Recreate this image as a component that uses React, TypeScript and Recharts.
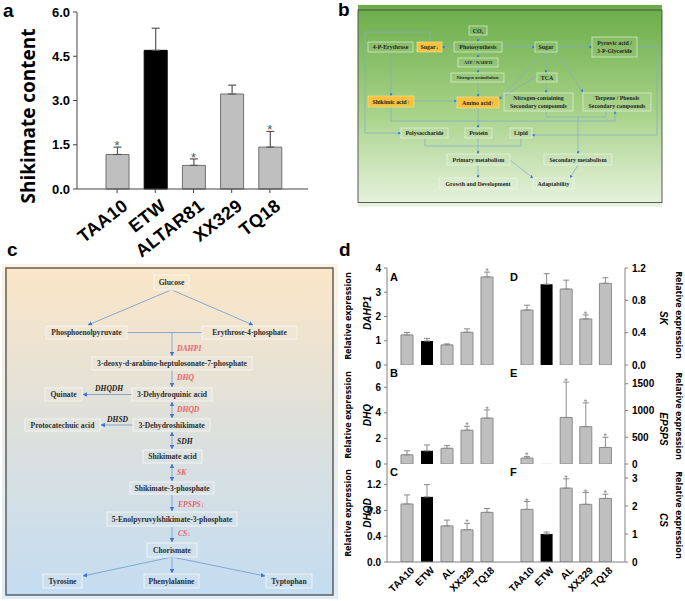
import React from 'react';
import { BarChart, Bar, XAxis, YAxis, ErrorBar, Cell, ReferenceDot } from 'recharts';

// ---------- DATA ----------
const shikCats = ['TAA10', 'ETW', 'ALTAR81', 'XX329', 'TQ18'];
const shikVals = [1.17, 4.7, 0.8, 3.22, 1.42];
const shikErrs = [0.25, 0.75, 0.22, 0.3, 0.53];
const shikStars = [true, false, true, false, true];
const shikTicks = [0, 1.5, 3, 4.5, 6];

const geneCats = ['TAA10', 'ETW', 'AL', 'XX329', 'TQ18'];
const dahp1Vals = [1.24, 0.99, 0.83, 1.35, 3.63];
const dahp1Errs = [0.1, 0.11, 0.04, 0.14, 0.2];
const dahp1Stars = [false, false, false, false, true];
const dhqVals = [0.72, 1.03, 1.23, 2.64, 3.59];
const dhqErrs = [0.31, 0.46, 0.21, 0.31, 0.64];
const dhqStars = [false, false, false, true, true];
const dhqdVals = [0.9, 1.01, 0.56, 0.5, 0.77];
const dhqdErrs = [0.14, 0.19, 0.09, 0.1, 0.06];
const dhqdStars = [false, false, false, true, false];
const skVals = [0.68, 1.0, 0.94, 0.57, 1.01];
const skErrs = [0.06, 0.13, 0.11, 0.05, 0.07];
const skStars = [false, false, false, true, false];
const epspsVals = [111, 1, 870, 698, 309];
const epspsErrs = [31, 0, 661, 444, 191];
const epspsStars = [true, false, true, true, true];
const csVals = [1.88, 1.0, 2.64, 2.06, 2.27];
const csErrs = [0.28, 0.07, 0.33, 0.42, 0.15];
const csStars = [true, false, true, true, true];

const dahp1Ticks = [0, 1, 2, 3, 4];
const dhqTicks = [0, 2, 4, 6];
const dhqdTicks = [0, 0.4, 0.8, 1.2];
const skTicks = [0, 0.4, 0.8, 1.2];
const epspsTicks = [0, 500, 1000, 1500];
const csTicks = [0, 1, 2, 3];

// ---------- STYLE ----------
const FA = 'Arial, "Liberation Sans", sans-serif';
const FO = '"Open Sans", sans-serif';
const FS = '"Liberation Serif", "Times New Roman", serif';
const GRAY = '#bfbfbf';
const GSTROKE = '#8a8a8a';
const FRAME = '#808080';

const fmt1 = (v: number) => v.toFixed(1);
const fmt0 = (v: number) => String(v);

// ---------- Panel a ----------
const TickA = (props: any) => {
  const { x, y, payload } = props;
  const ax = x + 12, ay = y + 13;
  return (
    <text x={ax} y={ay} textAnchor="end" transform={`rotate(-38 ${ax} ${ay})`} fontSize={18} fontWeight="bold" fontFamily={FA} fill="#000" letterSpacing={0.4}>
      {payload.value}
    </text>
  );
};

function PanelA() {
  const data = shikCats.map((c, i) => ({ name: c, v: shikVals[i], e: [0, shikErrs[i]] }));
  return (
    <div style={{ position: 'absolute', left: 0, top: 0 }}>
      <BarChart width={320} height={275} data={data} margin={{ top: 12, right: 12, bottom: 6, left: 17 }}>
        <XAxis xAxisId="main" dataKey="name" height={80} interval={0} padding={{ left: 21, right: 19 }} tickSize={4} tickMargin={2}
          axisLine={{ stroke: '#444' }} tickLine={{ stroke: '#444' }} tick={(p: any) => <TickA {...p} />} />
        <XAxis xAxisId="frame" orientation="top" dataKey="name" height={0} tick={false} tickLine={false} axisLine={{ stroke: '#444' }} />
        <YAxis yAxisId="main" width={60} domain={[0, 6]} ticks={shikTicks} interval={0} tickFormatter={fmt1} tickSize={4} tickMargin={3}
          axisLine={{ stroke: '#444' }} tickLine={{ stroke: '#444' }}
          tick={{ fontSize: 13, fontWeight: 'bold', fill: '#000', fontFamily: FA }} />
        <YAxis yAxisId="frame" orientation="right" width={0} domain={[0, 6]} tick={false} tickLine={false} axisLine={{ stroke: '#444' }} />
        <Bar xAxisId="main" yAxisId="main" dataKey="v" barSize={23} isAnimationActive={false}>
          {data.map((d, i) => (
            <Cell key={i} fill={d.name === 'ETW' ? '#000' : GRAY} stroke={d.name === 'ETW' ? '#000' : '#6f6f6f'} />
          ))}
          <ErrorBar dataKey="e" width={4} stroke="#555" strokeWidth={1.2} direction="y" isAnimationActive={false} />
        </Bar>
        {shikStars.map((s, i) => s ? (
          <ReferenceDot key={i} xAxisId="main" yAxisId="main" x={shikCats[i]} y={shikVals[i] + shikErrs[i]} r={0} ifOverflow="visible"
            shape={(sp: any) => <text x={sp.cx} y={sp.cy + 3} textAnchor="middle" fontSize={13} fill="#555" fontFamily={FA}>*</text>} />
        ) : null)}
      </BarChart>
    </div>
  );
}

// ---------- Panel d subplots ----------
const TickD = (props: any) => {
  const { x, y, payload } = props;
  const ax = x + 8, ay = y + 7;
  return (
    <text x={ax} y={ay} textAnchor="end" transform={`rotate(-45 ${ax} ${ay})`} fontSize={10} fontWeight="bold" fontFamily={FA} fill="#000">
      {payload.value}
    </text>
  );
};

type SubProps = {
  left: number; top: number; plotH: number; side: 'left' | 'right';
  vals: number[]; errs: number[]; stars: boolean[];
  domain: [number, number]; ticks: number[]; fmt: (v: number) => string; showX: boolean;
};

function SubPlot(p: SubProps) {
  const data = geneCats.map((c, i) => ({ name: c, v: p.vals[i], e: p.errs[i] > 0 ? [0, p.errs[i]] : null }));
  const isL = p.side === 'left';
  const W = isL ? 160 : 158;
  const topM = 10;
  const botM = p.showX ? 0 : 8;
  const xH = p.showX ? 38 : 0;
  const H = topM + p.plotH + xH + botM;
  return (
    <div style={{ position: 'absolute', left: p.left, top: p.top - topM }}>
      <BarChart width={W} height={H} data={data} margin={{ top: topM, right: 0, bottom: botM, left: 0 }}>
        <XAxis xAxisId="main" dataKey="name" height={xH} interval={0} padding={{ left: 10, right: 10 }} tickSize={0} tickMargin={2}
          axisLine={{ stroke: FRAME }} tickLine={false} tick={p.showX ? (tp: any) => <TickD {...tp} /> : false} />
        <XAxis xAxisId="frame" orientation="top" dataKey="name" height={0} tick={false} tickLine={false} axisLine={{ stroke: FRAME }} />
        <YAxis yAxisId="main" orientation={p.side} width={40} domain={p.domain} ticks={p.ticks} interval={0} tickFormatter={p.fmt}
          tickSize={3} tickMargin={isL ? 3 : 4} axisLine={{ stroke: FRAME }} tickLine={{ stroke: FRAME }} allowDataOverflow
          tick={{ fontSize: 10, fontWeight: 'bold', fill: '#000', fontFamily: FA }} />
        <YAxis yAxisId="frame" orientation={isL ? 'right' : 'left'} width={0} domain={p.domain} allowDataOverflow
          tick={false} tickLine={false} axisLine={{ stroke: FRAME }} />
        <Bar xAxisId="main" yAxisId="main" dataKey="v" barSize={12} isAnimationActive={false}>
          {data.map((d, i) => (
            <Cell key={i} fill={d.name === 'ETW' ? '#000' : GRAY} stroke={d.name === 'ETW' ? 'none' : GSTROKE} />
          ))}
          <ErrorBar dataKey="e" width={3} stroke={GSTROKE} strokeWidth={1} direction="y" isAnimationActive={false} />
        </Bar>
        {p.stars.map((s, i) => s ? (
          <ReferenceDot key={i} xAxisId="main" yAxisId="main" x={geneCats[i]} y={p.vals[i] + p.errs[i]} r={0} ifOverflow="visible"
            shape={(sp: any) => <text x={sp.cx} y={sp.cy + 2} textAnchor="middle" fontSize={9} fill="#888" fontFamily={FA}>*</text>} />
        ) : null)}
      </BarChart>
    </div>
  );
}

// ---------- Diagrams ----------
type Box = { x: number; y: number; w: number; h: number; t: string[]; yel?: boolean; fs?: number };
const bBoxes: Box[] = [
  { x: 469, y: 26, w: 18, h: 9, t: ['CO\u2082'] },
  { x: 368, y: 42, w: 45, h: 10, t: ['4-P-Erythrose'] },
  { x: 417, y: 42, w: 25, h: 10, t: ['Sugar\u2193'], yel: true },
  { x: 454, y: 42, w: 48, h: 10, t: ['Photosynthesis'] },
  { x: 535, y: 42, w: 22, h: 10, t: ['Sugar'] },
  { x: 592, y: 37, w: 45, h: 20, t: ['Pyruvic acid /', '3-P-Glyceride'] },
  { x: 458, y: 58, w: 40, h: 9, t: ['ATP / NADPH'], fs: 4.6 },
  { x: 451, y: 73, w: 53, h: 9, t: ['Nitrogen assimilation'], fs: 4.6 },
  { x: 537, y: 73, w: 20, h: 9, t: ['TCA'] },
  { x: 368, y: 96, w: 46, h: 11, t: ['Shikimic acid\u2191'], yel: true },
  { x: 457, y: 97, w: 42, h: 11, t: ['Amino acid\u2191'], yel: true },
  { x: 504, y: 93, w: 69, h: 18, t: ['Nitrogen-containing', 'Secondary compounds'] },
  { x: 583, y: 93, w: 68, h: 18, t: ['Terpene / Phenols', 'Secondary compounds'] },
  { x: 401, y: 128, w: 47, h: 10, t: ['Polysaccharide'] },
  { x: 465, y: 128, w: 27, h: 10, t: ['Protein'] },
  { x: 510, y: 128, w: 22, h: 10, t: ['Lipid'] },
  { x: 447, y: 154, w: 63, h: 11, t: ['Primary metabolism'] },
  { x: 544, y: 154, w: 68, h: 11, t: ['Secondary metabolism'] },
  { x: 439, y: 178, w: 78, h: 11, t: ['Growth and Development'] },
  { x: 533, y: 178, w: 41, h: 11, t: ['Adaptability'] },
];
type Ln = { p: number[][]; a?: boolean; s?: boolean };
const bLines: Ln[] = [
  { p: [[478, 35], [478, 42]], a: true },
  { p: [[454, 47], [442, 47]], a: true },
  { p: [[502, 47], [535, 47]], a: true },
  { p: [[557, 47], [592, 47]], a: true },
  { p: [[478, 52], [478, 58]], a: true },
  { p: [[478, 67], [478, 73]], a: true },
  { p: [[478, 82], [478, 97]], a: true },
  { p: [[430, 42], [430, 32], [365, 32], [365, 133], [401, 133]], a: true },
  { p: [[391, 52], [391, 96]], a: true },
  { p: [[414, 101], [457, 101]], a: true },
  { p: [[545, 52], [499, 99]], a: true },
  { p: [[546, 52], [546, 73]], a: true },
  { p: [[556, 52], [583, 92]], a: true },
  { p: [[537, 76], [499, 99]], a: true },
  { p: [[546, 82], [546, 93]], a: true },
  { p: [[391, 107], [391, 121], [615, 121], [615, 111]], a: true },
  { p: [[546, 111], [546, 117], [606, 117], [606, 111]] },
  { p: [[578, 117], [578, 154]], a: true },
  { p: [[637, 47], [657, 47], [657, 135], [532, 135]], a: true },
  { p: [[478, 108], [478, 128]], a: true },
  { p: [[425, 138], [425, 146], [521, 146], [521, 138]] },
  { p: [[478, 138], [478, 154]], a: true },
  { p: [[478, 165], [478, 178]], a: true },
  { p: [[510, 160], [533, 178]], a: true },
  { p: [[578, 165], [570, 178]], a: true },
];

const cBoxes: Box[] = [
  { x: 154, y: 275, w: 35, h: 15, t: ['Glucose'] },
  { x: 46, y: 326, w: 81, h: 13, t: ['Phosphoenolpyruvate'] },
  { x: 202, y: 326, w: 95, h: 13, t: ['Erythrose-4-phosphate'] },
  { x: 92, y: 357, w: 160, h: 13, t: ['3-deoxy-d-arabino-heptulosonate-7-phosphate'] },
  { x: 45, y: 388, w: 37, h: 13, t: ['Quinate'] },
  { x: 132, y: 388, w: 80, h: 13, t: ['3-Dehydroquinic acid'] },
  { x: 25, y: 419, w: 75, h: 12, t: ['Protocatechuic acid'] },
  { x: 133, y: 419, w: 77, h: 12, t: ['3-Dehydroshikimate'] },
  { x: 143, y: 450, w: 59, h: 13, t: ['Shikimate acid'] },
  { x: 130, y: 482, w: 84, h: 12, t: ['Shikimate-3-phosphate'] },
  { x: 107, y: 512, w: 130, h: 14, t: ['5-Enolpyruvylshikimate-3-phosphate'] },
  { x: 147, y: 543, w: 50, h: 14, t: ['Chorismate'] },
  { x: 43, y: 574, w: 39, h: 14, t: ['Tyrosine'] },
  { x: 144, y: 574, w: 55, h: 14, t: ['Phenylalanine'] },
  { x: 266, y: 574, w: 46, h: 14, t: ['Typtophan'] },
];
const cLines: Ln[] = [
  { p: [[171, 290], [88, 325]], a: true },
  { p: [[172, 290], [253, 325]], a: true },
  { p: [[127, 332.5], [202, 332.5]] },
  { p: [[172, 332.5], [172, 356]], a: true },
  { p: [[172, 370], [172, 387]], a: true },
  { p: [[132, 394.5], [83, 394.5]], a: true },
  { p: [[172, 402], [172, 418]], a: true, s: true },
  { p: [[133, 425], [101, 425]], a: true },
  { p: [[172, 432], [172, 449]], a: true, s: true },
  { p: [[172, 464], [172, 481]], a: true, s: true },
  { p: [[172, 495], [172, 511]], a: true },
  { p: [[172, 527], [172, 542]], a: true },
  { p: [[172, 557], [83, 576]], a: true },
  { p: [[172, 557], [172, 573]], a: true },
  { p: [[172, 557], [265, 576]], a: true },
];
type Lab = { x: number; y: number; t: string; red: boolean };
const cLabels: Lab[] = [
  { x: 177, y: 351, t: 'DAHP1', red: true },
  { x: 177, y: 380, t: 'DHQ', red: true },
  { x: 95, y: 391, t: 'DHQDH', red: false },
  { x: 177, y: 412, t: 'DHQD', red: true },
  { x: 107, y: 422, t: 'DHSD', red: false },
  { x: 177, y: 444, t: 'SDH', red: false },
  { x: 177, y: 475, t: 'SK', red: true },
  { x: 178, y: 507, t: 'EPSPS\u2193', red: true },
  { x: 178, y: 536, t: 'CS\u2193', red: true },
];

const pts = (p: number[][]) => p.map((q) => q.join(',')).join(' ');

function Diagrams() {
  return (
    <svg width={685} height={601} style={{ position: 'absolute', left: 0, top: 0 }}>
      <defs>
        <linearGradient id="gB" x1="0" y1="0" x2="0" y2="1">
          <stop offset="0" stopColor="#6aac48" />
          <stop offset="0.5" stopColor="#a3d083" />
          <stop offset="1" stopColor="#e8f3e0" />
        </linearGradient>
        <linearGradient id="gC" x1="0" y1="0" x2="0" y2="1">
          <stop offset="0" stopColor="#fbe6c7" />
          <stop offset="0.5" stopColor="#dde0dc" />
          <stop offset="1" stopColor="#c4ddf2" />
        </linearGradient>
        <marker id="mb" viewBox="0 0 6 6" refX="5.5" refY="3" markerWidth="3" markerHeight="3" markerUnits="userSpaceOnUse" orient="auto-start-reverse">
          <path d="M0,0 L6,3 L0,6 z" fill="#3f76d6" />
        </marker>
        <marker id="mc" viewBox="0 0 6 6" refX="5.5" refY="3" markerWidth="4.5" markerHeight="4.5" markerUnits="userSpaceOnUse" orient="auto-start-reverse">
          <path d="M0,0 L6,3 L0,6 z" fill="#3f76d6" />
        </marker>
      </defs>

      {/* panel b */}
      <rect x={358} y={5} width={304} height={202} fill="url(#gB)" />
      <rect x={358} y={10} width={304} height={192.5} fill="none" stroke="#4a4a4a" strokeWidth={0.9} />
      {bLines.map((l, i) => (
        <polyline key={i} points={pts(l.p)} fill="none" stroke="#86a9cf" strokeWidth={0.7} markerEnd={l.a ? 'url(#mb)' : undefined} />
      ))}
      {bBoxes.map((b, i) => {
        const fs = b.fs || 5.9;
        const cy = b.y + b.h / 2;
        return (
          <g key={i}>
            <rect x={b.x} y={b.y} width={b.w} height={b.h} fill={b.yel ? '#f7c23f' : 'rgba(255,255,255,0.06)'} stroke={b.yel ? '#f6dc8a' : 'rgba(240,250,235,0.85)'} strokeWidth={0.7} />
            {b.t.map((t, j) => (
              <text key={j} x={b.x + b.w / 2} y={cy + (j - (b.t.length - 1) / 2) * 7.5 + fs * 0.35} textAnchor="middle" fontSize={fs} fontWeight="bold" fontFamily={FS} fill="#262626">{t}</text>
            ))}
          </g>
        );
      })}

      {/* panel c */}
      <rect x={2} y={264} width={336} height={335} fill="url(#gC)" opacity={0.55} />
      <rect x={6} y={268} width={327} height={327} fill="url(#gC)" stroke="#555" strokeWidth={1.4} />
      {cLines.map((l, i) => (
        <polyline key={i} points={pts(l.p)} fill="none" stroke="#7b9fd6" strokeWidth={0.9}
          markerEnd={l.a ? 'url(#mc)' : undefined} markerStart={l.s ? 'url(#mc)' : undefined} />
      ))}
      {cBoxes.map((b, i) => (
        <g key={i}>
          <rect x={b.x} y={b.y} width={b.w} height={b.h} fill="rgba(255,255,255,0.08)" stroke="rgba(250,250,250,0.9)" strokeWidth={0.9} />
          <text x={b.x + b.w / 2} y={b.y + b.h / 2 + 2.7} textAnchor="middle" fontSize={7.6} fontWeight="bold" fontFamily={FS} fill="#2e2e2e">{b.t[0]}</text>
        </g>
      ))}
      {cLabels.map((l, i) => (
        <text key={i} x={l.x} y={l.y} fontSize={7.6} fontStyle="italic" fontWeight="bold" fontFamily={FS} fill={l.red ? '#ec5f6c' : '#222'}>{l.t}</text>
      ))}

      {/* panel letters */}
      <text x={3} y={17} fontSize={19} fontWeight="bold" fontFamily={FA}>a</text>
      <text x={338} y={16} fontSize={19} fontWeight="bold" fontFamily={FA}>b</text>
      <text x={7} y={256} fontSize={19} fontWeight="bold" fontFamily={FA}>c</text>
      <text x={339} y={256} fontSize={19} fontWeight="bold" fontFamily={FA}>d</text>

      {/* panel a axis title */}
      <text x={35} y={116} transform="rotate(-90 35 116)" textAnchor="middle" fontSize={19} fontWeight="bold" fontFamily={FO}>Shikimate content</text>

      {/* panel d axis titles */}
      {[316, 415, 513].map((y, i) => (
        <text key={'l' + i} x={351} y={y} transform={`rotate(-90 351 ${y})`} textAnchor="middle" fontSize={9} fontWeight="bold" fontFamily={FO}>Relative expression</text>
      ))}
      {[[313, 'DAHP1'], [415, 'DHQ'], [513, 'DHQD']].map(([y, t], i) => (
        <text key={'g' + i} x={371} y={y as number} transform={`rotate(-90 371 ${y})`} textAnchor="middle" fontSize={10} fontWeight="bold" fontStyle="italic" fontFamily={FA}>{t}</text>
      ))}
      {[315, 416, 515].map((y, i) => (
        <text key={'r' + i} x={676} y={y} transform={`rotate(90 676 ${y})`} textAnchor="middle" fontSize={9} fontWeight="bold" fontFamily={FO}>Relative expression</text>
      ))}
      {[[318, 'SK'], [429, 'EPSPS'], [520, 'CS']].map(([y, t], i) => (
        <text key={'q' + i} x={660} y={y as number} transform={`rotate(90 660 ${y})`} textAnchor="middle" fontSize={10} fontWeight="bold" fontStyle="italic" fontFamily={FA}>{t}</text>
      ))}

      {/* subplot letters */}
      {[[390, 281, 'A'], [390, 377, 'B'], [390, 476, 'C'], [510, 281, 'D'], [510, 377, 'E'], [510, 476, 'F']].map(([x, y, t], i) => (
        <text key={'s' + i} x={x as number} y={y as number} fontSize={11} fontWeight="bold" fontFamily={FA}>{t}</text>
      ))}
    </svg>
  );
}

export default function App() {
  return (
    <div style={{ position: 'absolute', left: 0, top: 0, width: 685, height: 601, background: '#fff', overflow: 'hidden' }}>
      <Diagrams />
      <PanelA />
      <SubPlot left={347} top={268} plotH={97} side="left" vals={dahp1Vals} errs={dahp1Errs} stars={dahp1Stars} domain={[0, 4]} ticks={dahp1Ticks} fmt={fmt0} showX={false} />
      <SubPlot left={347} top={365} plotH={99} side="left" vals={dhqVals} errs={dhqErrs} stars={dhqStars} domain={[0, 7.74]} ticks={dhqTicks} fmt={fmt0} showX={false} />
      <SubPlot left={347} top={464} plotH={98} side="left" vals={dhqdVals} errs={dhqdErrs} stars={dhqdStars} domain={[0, 1.52]} ticks={dhqdTicks} fmt={fmt1} showX={true} />
      <SubPlot left={507} top={268} plotH={97} side="right" vals={skVals} errs={skErrs} stars={skStars} domain={[0, 1.2]} ticks={skTicks} fmt={fmt1} showX={false} />
      <SubPlot left={507} top={365} plotH={99} side="right" vals={epspsVals} errs={epspsErrs} stars={epspsStars} domain={[0, 1850]} ticks={epspsTicks} fmt={fmt0} showX={false} />
      <SubPlot left={507} top={464} plotH={98} side="right" vals={csVals} errs={csErrs} stars={csStars} domain={[0, 3.5]} ticks={csTicks} fmt={fmt0} showX={true} />
    </div>
  );
}
